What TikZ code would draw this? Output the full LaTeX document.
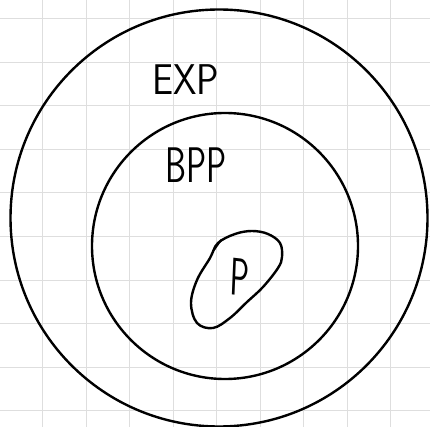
\documentclass[tikz,border=0pt]{standalone}
\begin{document}
\begin{tikzpicture}[x=1pt,y=-1pt,
  gridline/.style={draw=black!13,line width=1pt},
  ring/.style={circle,draw=black,line width=2.4pt,inner sep=0pt},
  hand/.style={font=\sffamily,inner sep=0pt,transform shape},
  blobline/.style={draw=black,line width=2.4pt,line cap=round,line join=round}]
\useasboundingbox (0,0) rectangle (430,427);
\fill[white] (0,0) rectangle (430,427);
\foreach \k in {0,...,8} {\draw[gridline] ({42.5+43.5*\k},0) -- ({42.5+43.5*\k},427);}
\foreach \k in {0,...,9} {\draw[gridline] (0,{19+43.5*\k}) -- (430,{19+43.5*\k});}
\node[ring,minimum size=417pt] (exp) at (219,218) {};
\node[ring,minimum size=266pt] (bpp) at (225,246) {};
\node[hand,xscale=0.87] (explabel) at (186,80) {\fontsize{43}{43}\selectfont EXP};
\node[hand,xscale=0.67] (bpplabel) at (196,165) {\fontsize{50}{50}\selectfont BPP};
\draw[blobline] plot[smooth cycle,tension=0.6] coordinates {(218,243) (235,234) (252,231) (268,234) (280,243) (282,257) (278,268) (263,287) (247,302) (230,318) (213,328) (197,323) (191,303) (197,280) (210,258)};
\draw[blobline,line width=1.8pt] (214,250) -- (221,240);
\node[hand,xscale=0.6,rotate=-4] (plabel) at (240,277) {\fontsize{53}{53}\selectfont P};
\end{tikzpicture}
\end{document}
